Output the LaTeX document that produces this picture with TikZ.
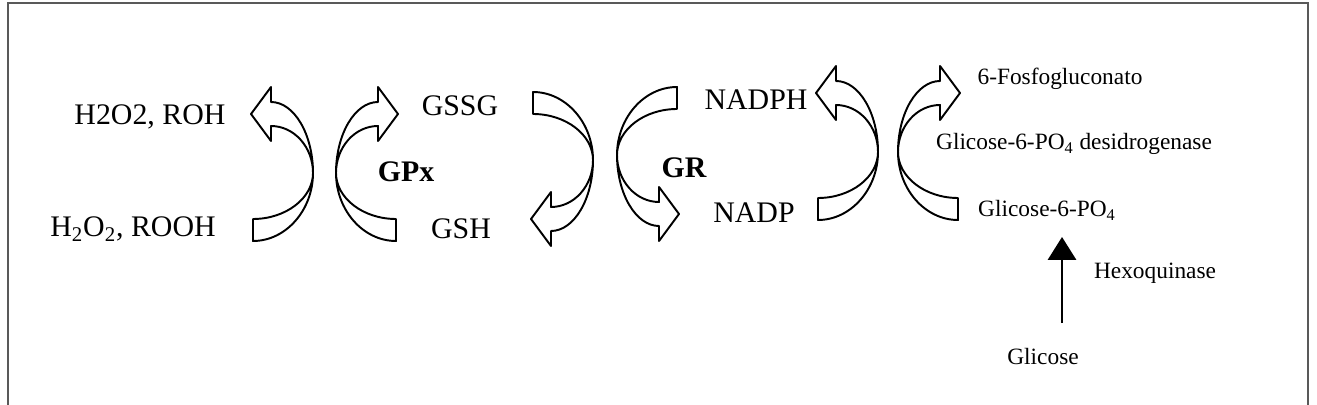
\documentclass[tikz,border=0pt]{standalone}
\usepackage{fontspec}
\setmainfont{Liberation Serif}
\usetikzlibrary{arrows.meta}

\begin{document}
\begin{tikzpicture}[
  x=0.02cm, y=-0.02cm,
  bigtext/.style={inner sep=0pt, font=\fontsize{17}{20}\selectfont},
  enzyme/.style={bigtext, font=\fontsize{17}{20}\selectfont\bfseries},
  smalltext/.style={inner sep=0pt, font=\fontsize{13.3}{16}\selectfont},
  blockarrow/.style={draw=black, fill=white, line width=1.1pt, line join=round},
  blackarrow/.style={-{Triangle[width=16pt,length=13pt]}, line width=1.3pt},
  frameline/.style={draw=black!65, line width=1.2pt},
  curvedarrow/.pic={
    \path[blockarrow] (-60,46) -- (-60,68) .. controls (-27,68) and (0,37) .. (0,0)
      .. controls (0,-39) and (-19,-71) .. (-42,-71) -- (-42,-86) -- (-62,-59)
      -- (-42,-32) -- (-42,-47) .. controls (-19,-47) and (0,-26) .. (0,0)
      .. controls (0,25) and (-27,46) .. (-60,46) -- cycle;
  },
]
\useasboundingbox (0,0) rectangle (1317,405);
\draw[frameline] (8,405) |- (1308,3) -- (1308,405);

% GPx cycle
\node[bigtext] (h2o2roh) at (150,117) {H2O2, ROH};
\node[bigtext] (h2o2rooh) at (133,229) {H\textsubscript{2}O\textsubscript{2}, ROOH};
\pic at (313,173) {curvedarrow};
\pic[xscale=-1] at (336,173) {curvedarrow};
\node[enzyme] (gpx) at (406,172) {GPx};
\node[bigtext] (gssg) at (460,106) {GSSG};
\node[bigtext] (gsh) at (461,229) {GSH};

% GR cycle
\pic[yscale=-1] at (593,160) {curvedarrow};
\pic[xscale=-1, yscale=-1] at (617,155) {curvedarrow};
\node[enzyme] (gr) at (684,168) {GR};
\node[bigtext] (nadph) at (756,100) {NADPH};
\node[bigtext] (nadp) at (754,213) {NADP};

% pentose phosphate
\pic at (878,152) {curvedarrow};
\pic[xscale=-1] at (898,152) {curvedarrow};
\node[smalltext] (fosfo) at (1060,79) {6-Fosfogluconato};
\node[smalltext] (g6pd) at (1074,144) {Glicose-6-PO\textsubscript{4} desidrogenase};
\node[smalltext] (g6p) at (1047,210) {Glicose-6-PO\textsubscript{4}};
\node[smalltext] (hexo) at (1155,273) {Hexoquinase};
\node[smalltext] (glicose) at (1043,357) {Glicose};

\coordinate (hexbot) at (1062,323);
\coordinate (hextop) at (1062,237);
\draw[blackarrow] (hexbot) -- (hextop);
\end{tikzpicture}
\end{document}
